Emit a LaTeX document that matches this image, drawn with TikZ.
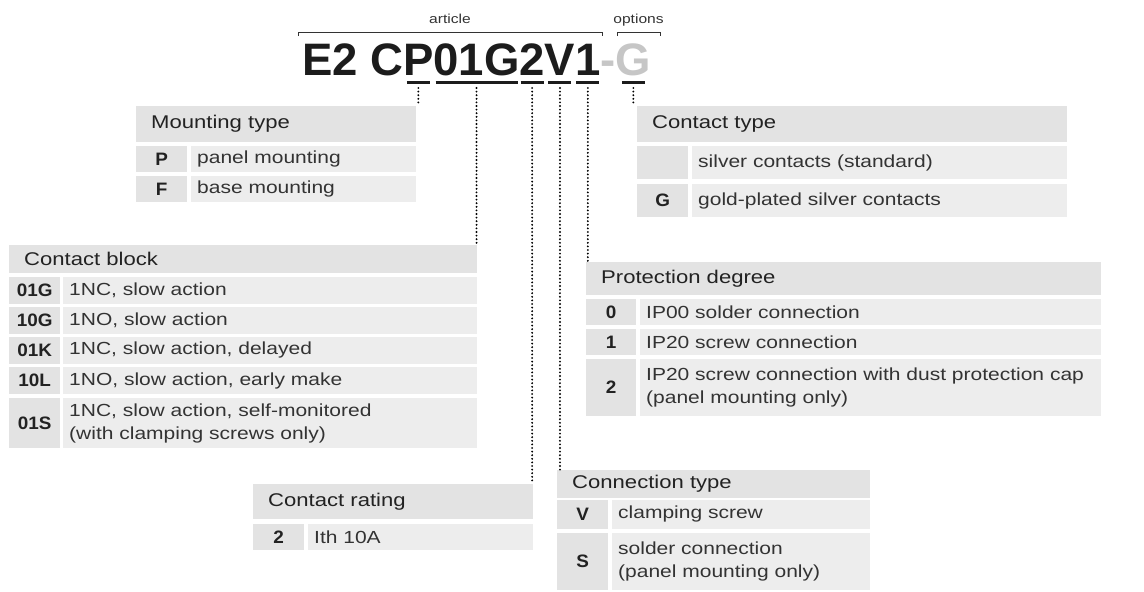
\documentclass[tikz,border=0pt]{standalone}
\usepackage{fontspec}
\setmainfont{Liberation Sans}[FakeStretch=1.2]
\newfontfamily\titlefamily{Liberation Sans}
\newfontfamily\keyfamily{Liberation Sans}[FakeStretch=1.05]
\newcommand{\headfont}{\fontsize{18.4}{22}\selectfont}
\newcommand{\bodyfont}{\fontsize{17.5}{23}\selectfont}
\newcommand{\keyfont}{\keyfamily\bfseries\fontsize{18}{22}\selectfont}
\newcommand{\titlefont}{\titlefamily\bfseries\fontsize{45.5}{50}\selectfont}
\definecolor{headfill}{HTML}{E3E3E3}
\definecolor{keyfill}{HTML}{E3E3E3}
\definecolor{valfill}{HTML}{EDEDED}
\definecolor{bodytext}{HTML}{333333}
\definecolor{keytext}{HTML}{222222}
\definecolor{titletext}{HTML}{1C1C1C}
\definecolor{optgray}{HTML}{C6C6C6}
\tikzset{
  titlepart/.style={anchor=base west, inner sep=0pt, outer sep=0pt, font=\titlefont, text=titletext},
  cellhead/.style={fill=headfill, anchor=north west, inner xsep=15pt, inner ysep=0pt, align=left, font=\headfont, text=keytext},
  cellkey/.style={fill=keyfill, anchor=north west, inner sep=0pt, align=center, font=\keyfont, text=keytext},
  cellval/.style={fill=valfill, anchor=north west, inner xsep=6pt, inner ysep=0pt, align=left, font=\bodyfont, text=bodytext},
  uline/.style={line width=2.4pt, titletext},
  dotline/.style={line width=2.1pt, line cap=round, dash pattern=on 0pt off 3.6pt, black},
  bracket/.style={line width=0.9pt, bodytext},
  bracketlabel/.style={inner sep=0pt, text height=9pt, text depth=3pt, font=\fontsize{13}{15}\selectfont, text=bodytext}
}
\begin{document}
\begin{tikzpicture}[x=1pt, y=-1pt]
  \useasboundingbox (0,0) rectangle (1144,592);

  % order code
  \node[titlepart] (tE) at (302,75) {E2 C};
  \node[titlepart] (tP) at (tE.base east) {P};
  \node[titlepart] (tB) at (tP.base east) {01G};
  \node[titlepart] (tR) at (tB.base east) {2};
  \node[titlepart] (tV) at (tR.base east) {V};
  \node[titlepart] (tI) at (tV.base east) {1};
  \node[titlepart, text=optgray] (tD) at (tI.base east) {-};
  \node[titlepart, text=optgray] (tG) at (tD.base east) {G};

  \coordinate (artL) at (298,32);
  \coordinate (artR) at (602,32);
  \coordinate (optL) at (617,32);
  \coordinate (optR) at (660,32);
  \draw[bracket] ([yshift=-4pt]artL) -- (artL) -- node[bracketlabel, above=5pt] (artT) {article} (artR) -- ([yshift=-4pt]artR);
  \draw[bracket] ([yshift=-4pt]optL) -- (optL) -- node[bracketlabel, above=5pt] (optT) {options} (optR) -- ([yshift=-4pt]optR);

  \foreach \n in {tP,tR,tV,tI,tG}
    \draw[uline] ([xshift=-11.5pt, yshift=-7.5pt]\n.base) -- ([xshift=11.5pt, yshift=-7.5pt]\n.base);
  \draw[uline] ([xshift=2pt, yshift=-7.5pt]tB.base west) -- ([xshift=-2pt, yshift=-7.5pt]tB.base east);

  % mounting type
  \node[cellhead, text width=250pt, minimum height=36pt] (mtH) at (136,106) {Mounting type};
  \node[cellkey, minimum width=51pt, minimum height=26pt] (mtP) at (136,146) {P};
  \node[cellval, text width=213pt, minimum height=26pt] (mtPv) at (191,146) {panel mounting};
  \node[cellkey, minimum width=51pt, minimum height=26pt] (mtF) at (136,176) {F};
  \node[cellval, text width=213pt, minimum height=26pt] (mtFv) at (191,176) {base mounting};

  % contact type
  \node[cellhead, text width=400pt, minimum height=36pt] (ctH) at (637,106) {Contact type};
  \node[cellkey, minimum width=51pt, minimum height=33pt] (ctS) at (637,146) {};
  \node[cellval, text width=363pt, minimum height=33pt] (ctSv) at (692,146) {silver contacts (standard)};
  \node[cellkey, minimum width=51pt, minimum height=33pt] (ctG) at (637,184) {G};
  \node[cellval, text width=363pt, minimum height=33pt] (ctGv) at (692,184) {gold-plated silver contacts};

  % contact block
  \node[cellhead, text width=438pt, minimum height=28pt] (cbH) at (9,245) {Contact block};
  \node[cellkey, minimum width=51pt, minimum height=26.5pt] (cbA) at (9,277) {01G};
  \node[cellval, text width=402pt, minimum height=26.5pt] (cbAv) at (63,277) {1NC, slow action};
  \node[cellkey, minimum width=51pt, minimum height=26.5pt] (cbB) at (9,307) {10G};
  \node[cellval, text width=402pt, minimum height=26.5pt] (cbBv) at (63,307) {1NO, slow action};
  \node[cellkey, minimum width=51pt, minimum height=26.5pt] (cbC) at (9,337) {01K};
  \node[cellval, text width=402pt, minimum height=26.5pt] (cbCv) at (63,337) {1NC, slow action, delayed};
  \node[cellkey, minimum width=51pt, minimum height=27pt] (cbD) at (9,367) {10L};
  \node[cellval, text width=402pt, minimum height=27pt] (cbDv) at (63,367) {1NO, slow action, early make};
  \node[cellkey, minimum width=51pt, minimum height=50pt] (cbE) at (9,398) {01S};
  \node[cellval, text width=402pt, minimum height=50pt] (cbEv) at (63,398) {1NC, slow action, self-monitored\\(with clamping screws only)};

  % protection degree
  \node[cellhead, text width=485pt, minimum height=33pt] (pdH) at (586,262) {Protection degree};
  \node[cellkey, minimum width=50pt, minimum height=26pt] (pdA) at (586,299) {0};
  \node[cellval, text width=449pt, minimum height=26pt] (pdAv) at (640,299) {IP00 solder connection};
  \node[cellkey, minimum width=50pt, minimum height=26.5pt] (pdB) at (586,328.5) {1};
  \node[cellval, text width=449pt, minimum height=26.5pt] (pdBv) at (640,328.5) {IP20 screw connection};
  \node[cellkey, minimum width=50pt, minimum height=57pt] (pdC) at (586,358.5) {2};
  \node[cellval, text width=449pt, minimum height=57pt] (pdCv) at (640,358.5) {IP20 screw connection with dust protection cap\\(panel mounting only)};

  % contact rating
  \node[cellhead, text width=250pt, minimum height=35pt] (crH) at (253,484) {Contact rating};
  \node[cellkey, minimum width=51pt, minimum height=26pt] (crA) at (253,524) {2};
  \node[cellval, text width=213pt, minimum height=26pt] (crAv) at (308,524) {Ith 10A};

  % connection type
  \node[cellhead, text width=283pt, minimum height=27.5pt] (cnH) at (557,470) {Connection type};
  \node[cellkey, minimum width=51pt, minimum height=28.5pt] (cnV) at (557,500) {V};
  \node[cellval, text width=246pt, minimum height=28.5pt] (cnVv) at (612,500) {clamping screw};
  \node[cellkey, minimum width=51pt, minimum height=57pt] (cnS) at (557,533) {S};
  \node[cellval, text width=246pt, minimum height=57pt] (cnSv) at (612,533) {solder connection\\(panel mounting only)};

  % pointers
  \draw[dotline] ([yshift=-13pt]tP.base) -- (tP.base |- mtH.north);
  \draw[dotline] ([yshift=-13pt]tB.base) -- (tB.base |- cbH.north);
  \draw[dotline] ([yshift=-13pt]tR.base) -- (tR.base |- crH.north);
  \draw[dotline] ([yshift=-13pt]tV.base) -- (tV.base |- cnH.north);
  \draw[dotline] ([yshift=-13pt]tI.base) -- (tI.base |- pdH.north);
  \draw[dotline] ([yshift=-13pt]tG.base) -- (tG.base |- ctH.north);
\end{tikzpicture}
\end{document}
